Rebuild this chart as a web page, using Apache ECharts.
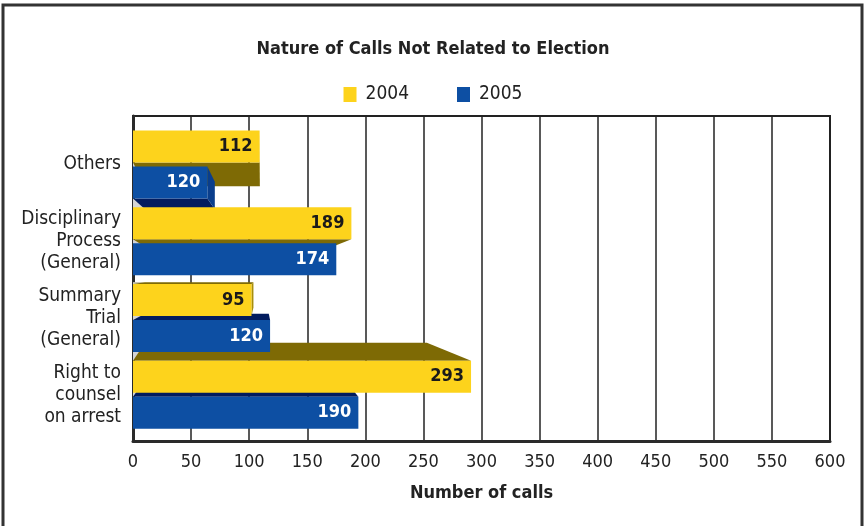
<!DOCTYPE html>
<html>
<head>
<meta charset="utf-8">
<script src="https://cdn.jsdelivr.net/npm/echarts@6/dist/echarts.min.js"></script>
<style>
html,body{margin:0;padding:0;background:#fff;}
#c{width:866px;height:526px;}
</style>
</head>
<body>
<div id="c"></div>
<script>
var categories = ['Others', 'Disciplinary\nProcess\n(General)', 'Summary\nTrial\n(General)', 'Right to\ncounsel\non arrest'];
var values2004 = [109, 188, 102, 291];
var values2005 = [64, 175, 118, 194];
var labels2004 = ['112', '189', '95', '293'];
var labels2005 = ['120', '174', '120', '190'];
var xTicks = [0, 50, 100, 150, 200, 250, 300, 350, 400, 450, 500, 550, 600];

var FONT = "'Liberation Sans Narrow','DejaVu Sans Condensed','Arial Narrow',sans-serif";
var YEL = '#FDD31C', YEL_TOP = '#7E6A05', YEL_SIDE = '#A88E0B';
var BLU = '#0D4FA3', BLU_TOP = '#021C5E', BLU_SIDE = '#0A3E8C';
var GRAY = '#D5D5D5';

function depthRender(yearIdx, s, topCol, sideCol) {
  return function (params, api) {
    var val = api.value(0), idx = api.value(1);
    var c0 = api.coord([0, idx]);
    var c1 = api.coord([val, idx]);
    var x0 = c0[0], x1 = c1[0], cy = c0[1];
    var yt = yearIdx === 0 ? cy - 34 : cy + 2;
    var yb = yt + 32;
    var vx = api.coord([110, 0])[0];
    var ya = api.coord([0, 1])[1], ybb = api.coord([0, 2])[1];
    var vy = ya + 0.45 * (ybb - ya);
    function bx(x) { return vx + (x - vx) * s; }
    function by(y) { return vy + (y - vy) * s; }
    var children = [];
    if (yt > vy) {
      var byt = by(yt);
      children.push({ type: 'polygon', shape: { points: [[x0, yt], [x1, yt], [bx(x1), byt], [x0, byt]] }, style: { fill: topCol } });
      children.push({ type: 'polygon', shape: { points: [[x0, byt], [x0 + 12, byt], [x0, yt]] }, style: { fill: GRAY } });
    }
    if (yb < vy) {
      var byb = by(yb);
      children.push({ type: 'polygon', shape: { points: [[x0, yb], [x1, yb], [bx(x1), byb], [x0, byb]] }, style: { fill: topCol } });
      children.push({ type: 'polygon', shape: { points: [[x0, yb], [x0, byb], [x0 + 12, byb]] }, style: { fill: GRAY } });
    }
    if (x1 < vx) {
      children.push({ type: 'polygon', shape: { points: [[x1, yt], [x1, yb], [bx(x1), by(yb)], [bx(x1), by(yt)]] }, style: { fill: sideCol } });
    }
    return { type: 'group', children: children };
  };
}

function depthData(vals) {
  return vals.map(function (v, i) { return [v, i]; });
}

var chart = echarts.init(document.getElementById('c'), null, { renderer: 'canvas' });
chart.setOption({
  animation: false,
  backgroundColor: '#fff',
  title: {
    text: 'Nature of Calls Not Related to Election',
    left: 'center', top: 35,
    textStyle: { fontFamily: FONT, fontSize: 18, fontWeight: 'bold', color: '#222' }
  },
  legend: {
    data: ['2004', '2005'],
    top: 80, left: 'center',
    itemWidth: 13, itemHeight: 15, itemGap: 48,
    icon: 'rect',
    textStyle: { fontFamily: FONT, fontSize: 19, color: '#222', padding: [0, 0, 0, 4] }
  },
  graphic: [{
    type: 'rect', shape: { x: 3, y: 5, width: 859, height: 530 },
    style: { fill: null, stroke: '#333', lineWidth: 3 }, silent: true, z: 100
  }],
  grid: [
    { left: 133, right: 36, top: 116, bottom: 85,
      show: true, borderColor: '#222', borderWidth: 2, backgroundColor: '#fff' },
    { left: 133, right: 36, top: 126, bottom: 93 }
  ],
  xAxis: [{
    gridIndex: 0, type: 'value', min: 0, max: 600, interval: 50,
    name: 'Number of calls', nameLocation: 'middle', nameGap: 43,
    nameTextStyle: { fontFamily: FONT, fontSize: 18, fontWeight: 'bold', color: '#222' },
    axisLine: { show: true, lineStyle: { color: '#2a2a2a', width: 3 } },
    axisTick: { show: false },
    axisLabel: { fontFamily: FONT, fontSize: 18, color: '#222', margin: 12,
      formatter: function (v) { return xTicks.indexOf(v) >= 0 ? String(v) : ''; } },
    splitLine: { show: true, lineStyle: { color: '#222', width: 1.5 } }
  }, {
    gridIndex: 1, type: 'value', min: 0, max: 600, interval: 50, show: false,
    splitLine: { show: false }
  }],
  yAxis: [{
    gridIndex: 0, type: 'value', min: 0, max: 1,
    axisLine: { show: true, onZero: false, lineStyle: { color: '#2a2a2a', width: 3 } },
    axisTick: { show: false }, axisLabel: { show: false }, splitLine: { show: false }
  }, {
    gridIndex: 1, type: 'category', inverse: true, data: categories,
    axisLine: { show: false },
    axisTick: { show: false },
    splitLine: { show: false },
    axisLabel: { fontFamily: FONT, fontSize: 19, color: '#222', lineHeight: 22, margin: 12, align: 'right' }
  }],
  series: [
    { type: 'custom', name: 'depth2004', xAxisIndex: 1, yAxisIndex: 1,
      renderItem: depthRender(0, 0.79, YEL_TOP, YEL_SIDE),
      data: depthData(values2004), encode: { x: 0, y: 1 }, z: 5, silent: true },
    { type: 'custom', name: 'depth2005', xAxisIndex: 1, yAxisIndex: 1,
      renderItem: depthRender(1, 0.86, BLU_TOP, BLU_SIDE),
      data: depthData(values2005), encode: { x: 0, y: 1 }, z: 5, silent: true },
    { type: 'bar', name: '2004', xAxisIndex: 1, yAxisIndex: 1, data: values2004,
      barWidth: 32, barGap: '12.5%', z: 6,
      itemStyle: { color: YEL },
      label: { show: true, position: 'insideRight', distance: 7,
        formatter: function (p) { return labels2004[p.dataIndex]; },
        fontFamily: FONT, fontSize: 18, fontWeight: 'bold', color: '#1a1a1a' } },
    { type: 'bar', name: '2005', xAxisIndex: 1, yAxisIndex: 1, data: values2005,
      barWidth: 32, barGap: '12.5%', z: 6,
      itemStyle: { color: BLU },
      label: { show: true, position: 'insideRight', distance: 7,
        formatter: function (p) { return labels2005[p.dataIndex]; },
        fontFamily: FONT, fontSize: 18, fontWeight: 'bold', color: '#fff' } }
  ]
});
</script>
</body>
</html>
